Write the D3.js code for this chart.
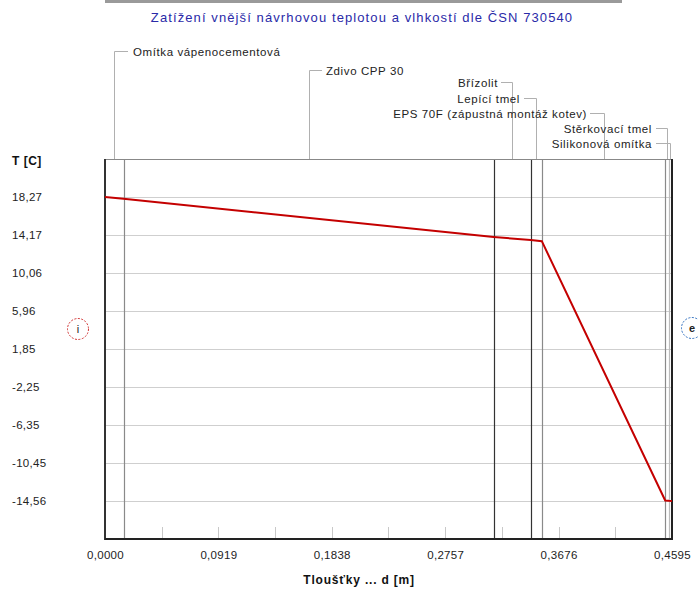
<!DOCTYPE html>
<html><head><meta charset="utf-8">
<script src="https://cdn.jsdelivr.net/npm/d3@7/dist/d3.min.js"></script>
<style>
body{margin:0;background:#fff;}
svg text{font-family:"Liberation Sans",Arial,sans-serif;}
</style></head>
<body><div id="chart"></div>
<script>
// ---- data ----
const title = "Zatížení vnější návrhovou teplotou a vlhkostí dle ČSN 730540";
const yLabel = "T [C]";
const xLabel = "Tloušťky ... d [m]";
// layer boundaries (m) and temperatures at them (°C)
const depths = [0, 0.0150, 0.3150, 0.3450, 0.3540, 0.4540, 0.4570, 0.4595];
const temps  = [18.27, 18.07, 13.95, 13.62, 13.50, -14.50, -14.54, -14.56];
const layerNames = ["Omítka vápenocementová","Zdivo CPP  30","Břízolit","Lepící tmel","EPS 70F (zápustná montáž kotev)","Stěrkovací tmel","Silikonová omítka"];
const yTickValues = [18.27, 14.17, 10.06, 5.96, 1.85, -2.25, -6.35, -10.45, -14.56];
const yTickLabels = ["18,27","14,17","10,06","5,96","1,85","-2,25","-6,35","-10,45","-14,56"];
const xTickValues = [0, 0.0919, 0.1838, 0.2757, 0.3676, 0.4595];
const xTickLabels = ["0,0000","0,0919","0,1838","0,2757","0,3676","0,4595"];
const xMinorStep = 0.04595;
const yDomain = [-18.664, 22.374];

// ---- layout ----
const W = 698, H = 589;
const L = 105, R = 672, T = 159, B = 539;
const svg = d3.select("#chart").append("svg").attr("width", W).attr("height", H);
const x = d3.scaleLinear().domain([0, 0.4595]).range([L, R]);
const y = d3.scaleLinear().domain(yDomain).range([B, T]);

// top decorative bar
svg.append("rect").attr("x",105).attr("y",0).attr("width",517).attr("height",3).attr("fill","#9a9a9a");

// title
svg.append("text").attr("x",362).attr("y",22).attr("text-anchor","middle")
  .attr("fill","#2a2aa8").style("font-size","13px").style("letter-spacing","1.1px").text(title);

// horizontal grid
svg.append("g").selectAll("line").data(yTickValues).join("line")
  .attr("x1",L).attr("x2",R).attr("y1",d=>Math.round(y(d))+0.5).attr("y2",d=>Math.round(y(d))+0.5)
  .attr("stroke","#cfcfcf").attr("stroke-width",1);

// minor ticks on bottom
const minor = d3.range(1,10).map(k=>k*xMinorStep);
svg.append("g").selectAll("line").data(minor).join("line")
  .attr("x1",d=>Math.round(x(d))+0.5).attr("x2",d=>Math.round(x(d))+0.5)
  .attr("y1",B-12).attr("y2",B).attr("stroke","#c8c8c8");

// layer boundary lines
const bounds = depths.slice(1, depths.length-1);
const boundColor = ["#8a8a8a","#333","#333","#8a8a8a","#8a8a8a","#bbb"];
svg.append("g").selectAll("line").data(bounds).join("line")
  .attr("x1",d=>Math.round(x(d))+0.5).attr("x2",d=>Math.round(x(d))+0.5)
  .attr("y1",T).attr("y2",B).attr("stroke",(d,i)=>boundColor[i]).attr("stroke-width",1.2);

// frame
svg.append("line").attr("x1",L).attr("x2",R).attr("y1",T+0.5).attr("y2",T+0.5).attr("stroke","#888");
svg.append("line").attr("x1",L).attr("x2",L).attr("y1",T).attr("y2",B+1).attr("stroke","#333").attr("stroke-width",2);
svg.append("line").attr("x1",L).attr("x2",R+1).attr("y1",B).attr("y2",B).attr("stroke","#222").attr("stroke-width",2);
svg.append("line").attr("x1",R).attr("x2",R).attr("y1",T).attr("y2",B+1).attr("stroke","#222").attr("stroke-width",2);

// temperature line
const line = d3.line().x(d=>x(d[0])).y(d=>y(d[1]));
svg.append("path").datum(depths.map((d,i)=>[d,temps[i]]))
  .attr("d",line).attr("fill","none").attr("stroke","#c40000").attr("stroke-width",2);

// layer leader labels
const labelPos = [
  {ty:56, tx:133, anchor:"start", hx:128},
  {ty:75, tx:326, anchor:"start", hx:322},
  {ty:87, tx:498, anchor:"end", hx:501},
  {ty:103, tx:520, anchor:"end", hx:524},
  {ty:118, tx:587, anchor:"end", hx:590},
  {ty:133, tx:652, anchor:"end", hx:656},
  {ty:148, tx:652, anchor:"end", hx:656}
];
const centers = layerNames.map((n,i)=>x((depths[i]+depths[i+1])/2));
const lg = svg.append("g");
layerNames.forEach((n,i)=>{
  const p = labelPos[i], cx = Math.round(centers[i])+0.5, ly = p.ty-4.5;
  lg.append("path").attr("d",`M${cx},${T} V${ly} H${p.hx}`).attr("fill","none").attr("stroke","#b0b0b0");
  lg.append("text").attr("x",p.tx).attr("y",p.ty).attr("text-anchor",p.anchor)
    .style("font-size","11.5px").style("letter-spacing","0.6px").attr("fill","#222").text(n);
});

// y axis labels
svg.append("text").attr("x",12).attr("y",165).style("font-size","12px").style("font-weight","bold").style("letter-spacing","0.5px").attr("fill","#111").text(yLabel);
svg.append("g").selectAll("text").data(yTickValues).join("text")
  .attr("x",12).attr("y",d=>y(d)+4).style("font-size","11.5px").style("letter-spacing","0.3px").attr("fill","#222")
  .text((d,i)=>yTickLabels[i]);

// x axis
const xAxis = d3.axisBottom(x).tickValues(xTickValues).tickSize(0).tickPadding(12)
  .tickFormat((d,i)=>xTickLabels[i]);
const gx = svg.append("g").attr("transform",`translate(0,${B})`).call(xAxis);
gx.select(".domain").remove();
gx.selectAll("text").style("font-size","11.5px").style("letter-spacing","0.3px").attr("fill","#222").style("font-family","'Liberation Sans',Arial,sans-serif");
svg.append("text").attr("x",359).attr("y",584).attr("text-anchor","middle")
  .style("font-size","12px").style("font-weight","bold").style("letter-spacing","0.8px").attr("fill","#111").text(xLabel);

// i / e markers
svg.append("circle").attr("cx",78).attr("cy",329).attr("r",10.5).attr("fill","none")
  .attr("stroke","#d03030").attr("stroke-dasharray","2,1.5");
svg.append("text").attr("x",78).attr("y",333).attr("text-anchor","middle").style("font-size","11px").attr("fill","#222").text("i");
svg.append("circle").attr("cx",692).attr("cy",328).attr("r",10.5).attr("fill","none")
  .attr("stroke","#3070c0").attr("stroke-dasharray","2,1.5");
svg.append("text").attr("x",692).attr("y",332).attr("text-anchor","middle").style("font-size","11px").style("font-weight","bold").attr("fill","#222").text("e");
</script></body></html>
